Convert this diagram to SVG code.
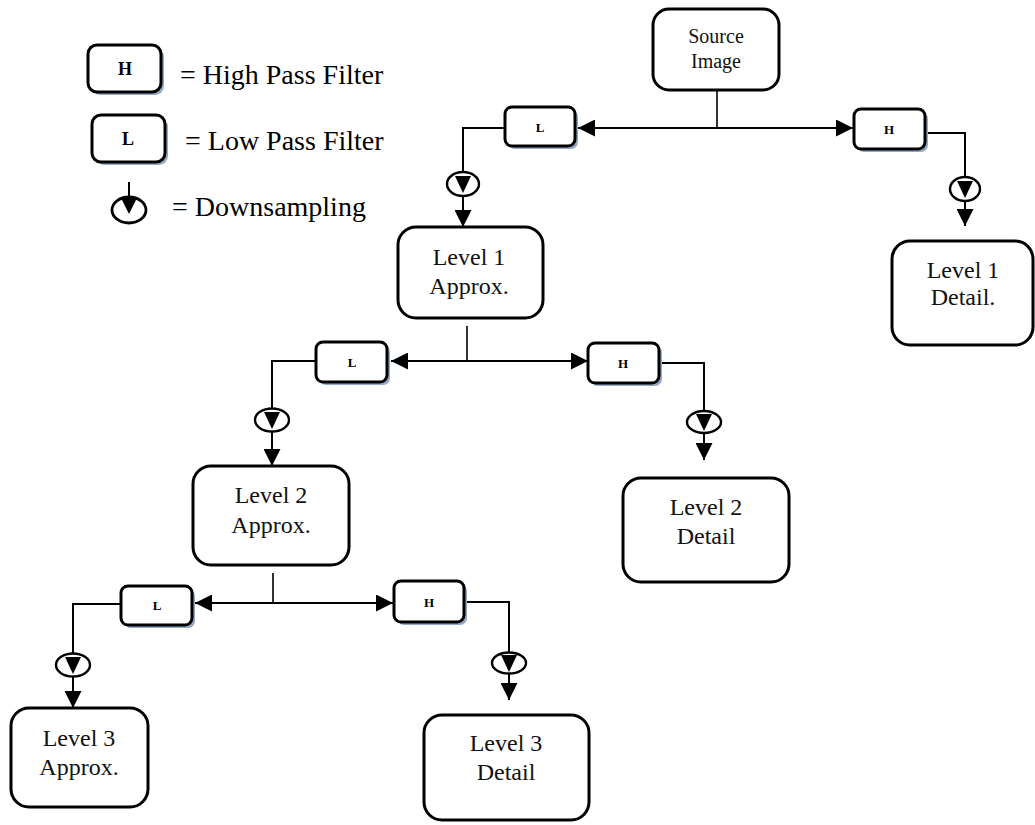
<svg xmlns="http://www.w3.org/2000/svg" width="1035" height="825" viewBox="0 0 1035 825">
<defs>
<style>
.box{fill:#fff;stroke:#000;stroke-width:3}
.shadow{fill:#93a9c6;stroke:none}
.flt{fill:#fff;stroke:#000;stroke-width:3}
.lbl{font-family:"Liberation Serif","Times New Roman",serif;font-size:24px;fill:#111;text-anchor:middle}
.src{font-family:"Liberation Serif","Times New Roman",serif;font-size:20px;fill:#111;text-anchor:middle}
.fl{font-family:"Liberation Serif","Times New Roman",serif;font-size:13px;font-weight:bold;fill:#000;text-anchor:middle}
.lg{font-family:"Liberation Serif","Times New Roman",serif;font-size:18px;font-weight:bold;fill:#000;text-anchor:middle}
.leg{font-family:"Liberation Serif","Times New Roman",serif;font-size:28px;fill:#000}
.ln{fill:none;stroke:#000;stroke-width:2}
.stub{fill:none;stroke:#000;stroke-width:1.6}
.ds{fill:#fff;stroke:#000;stroke-width:2.4}
.tri{fill:#000}
</style>
<marker id="arr" markerUnits="userSpaceOnUse" markerWidth="17" markerHeight="17" viewBox="0 0 17 17" refX="17" refY="8.5" orient="auto-start-reverse">
<path d="M0,0 L17,8.5 L0,17 Z" fill="#000"/>
</marker>
</defs>

<g id="legend">
<g id="legend-h">
<rect class="shadow" x="91" y="48" width="73" height="47" rx="9"/>
<rect class="flt" x="88" y="45" width="73" height="47" rx="9"/>
<text class="lg" x="125" y="75">H</text>
<text class="leg" x="180" y="84">= High Pass Filter</text>
</g>
<g id="legend-l">
<rect class="shadow" x="95" y="118" width="73" height="47" rx="9"/>
<rect class="flt" x="92" y="115" width="73" height="47" rx="9"/>
<text class="lg" x="128" y="145">L</text>
<text class="leg" x="185" y="150">= Low Pass Filter</text>
</g>
<g id="legend-ds">
<ellipse class="ds" cx="129" cy="210" rx="17" ry="13" style="stroke-width:2.8"/>
<line class="ln" x1="129" y1="182" x2="129" y2="200"/>
<path class="tri" d="M121,198 L137,198 L129,214 Z"/>
<text class="leg" x="172" y="216">= Downsampling</text>
</g>
</g>

<g id="connectors">
<line class="stub" x1="717" y1="90" x2="717" y2="128"/>
<line class="ln" x1="578" y1="128" x2="853" y2="128" marker-start="url(#arr)" marker-end="url(#arr)"/>
<path class="ln" d="M505,128 H463 V227" marker-end="url(#arr)"/>
<path class="ln" d="M925,133 H965 V226" marker-end="url(#arr)"/>

<line class="stub" x1="467" y1="326" x2="467" y2="361"/>
<line class="ln" x1="391" y1="361" x2="588" y2="361" marker-start="url(#arr)" marker-end="url(#arr)"/>
<path class="ln" d="M316,361 H272 V466" marker-end="url(#arr)"/>
<path class="ln" d="M659,363 H704 V460" marker-end="url(#arr)"/>

<line class="stub" x1="273" y1="573" x2="273" y2="603"/>
<line class="ln" x1="195" y1="603" x2="393" y2="603" marker-start="url(#arr)" marker-end="url(#arr)"/>
<path class="ln" d="M121,604 H73 V708" marker-end="url(#arr)"/>
<path class="ln" d="M464,602 H509 V700" marker-end="url(#arr)"/>

<g id="downsamplers">
<ellipse class="ds" cx="463" cy="184" rx="16" ry="12"/>
<path class="tri" d="M455,176 L471,176 L463,193 Z"/>
<ellipse class="ds" cx="965" cy="189" rx="15" ry="12"/>
<path class="tri" d="M957,181 L973,181 L965,198 Z"/>
<ellipse class="ds" cx="272" cy="420" rx="17" ry="11.5"/>
<path class="tri" d="M264,412 L280,412 L272,429 Z"/>
<ellipse class="ds" cx="704" cy="422" rx="17" ry="11"/>
<path class="tri" d="M696,414 L712,414 L704,431 Z"/>
<ellipse class="ds" cx="73" cy="665" rx="17" ry="11.5"/>
<path class="tri" d="M65,657 L81,657 L73,674 Z"/>
<ellipse class="ds" cx="509" cy="663" rx="17" ry="10.5"/>
<path class="tri" d="M501,655 L517,655 L509,672 Z"/>
</g>
</g>

<g id="source">
<rect class="box" x="653" y="9" width="126" height="81" rx="16"/>
<text class="src" x="716" y="43">Source</text>
<text class="src" x="716" y="68">Image</text>
</g>

<g id="filter-l1">
<rect class="shadow" x="508" y="110" width="70" height="39" rx="7"/>
<rect class="flt" x="505" y="107" width="70" height="39" rx="7"/>
<text class="fl" x="540" y="132">L</text>
</g>
<g id="filter-h1">
<rect class="shadow" x="857" y="112" width="71" height="40" rx="7"/>
<rect class="flt" x="854" y="109" width="71" height="40" rx="7"/>
<text class="fl" x="889" y="134">H</text>
</g>

<g id="level1-approx">
<rect class="box" x="398" y="227" width="145" height="91" rx="18"/>
<text class="lbl" x="469" y="265">Level 1</text>
<text class="lbl" x="469" y="294">Approx.</text>
</g>
<g id="level1-detail">
<rect class="box" x="892" y="241" width="141" height="104" rx="18"/>
<text class="lbl" x="963" y="278">Level 1</text>
<text class="lbl" x="963" y="305">Detail.</text>
</g>

<g id="filter-l2">
<rect class="shadow" x="319" y="345" width="71" height="40" rx="7"/>
<rect class="flt" x="316" y="342" width="71" height="40" rx="7"/>
<text class="fl" x="352" y="367">L</text>
</g>
<g id="filter-h2">
<rect class="shadow" x="591" y="346" width="71" height="40" rx="7"/>
<rect class="flt" x="588" y="343" width="71" height="40" rx="7"/>
<text class="fl" x="623" y="368">H</text>
</g>

<g id="level2-approx">
<rect class="box" x="193" y="466" width="156" height="99" rx="18"/>
<text class="lbl" x="271" y="503">Level 2</text>
<text class="lbl" x="271" y="533">Approx.</text>
</g>
<g id="level2-detail">
<rect class="box" x="623" y="478" width="166" height="104" rx="18"/>
<text class="lbl" x="706" y="515">Level 2</text>
<text class="lbl" x="706" y="544">Detail</text>
</g>

<g id="filter-l3">
<rect class="shadow" x="124" y="589" width="71" height="39" rx="7"/>
<rect class="flt" x="121" y="586" width="71" height="39" rx="7"/>
<text class="fl" x="157" y="610">L</text>
</g>
<g id="filter-h3">
<rect class="shadow" x="397" y="584" width="70" height="41" rx="7"/>
<rect class="flt" x="394" y="581" width="70" height="41" rx="7"/>
<text class="fl" x="429" y="607">H</text>
</g>

<g id="level3-approx">
<rect class="box" x="11" y="708" width="137" height="99" rx="18"/>
<text class="lbl" x="79" y="746">Level 3</text>
<text class="lbl" x="79" y="775">Approx.</text>
</g>
<g id="level3-detail">
<rect class="box" x="424" y="715" width="165" height="105" rx="18"/>
<text class="lbl" x="506" y="751">Level 3</text>
<text class="lbl" x="506" y="780">Detail</text>
</g>
</svg>
